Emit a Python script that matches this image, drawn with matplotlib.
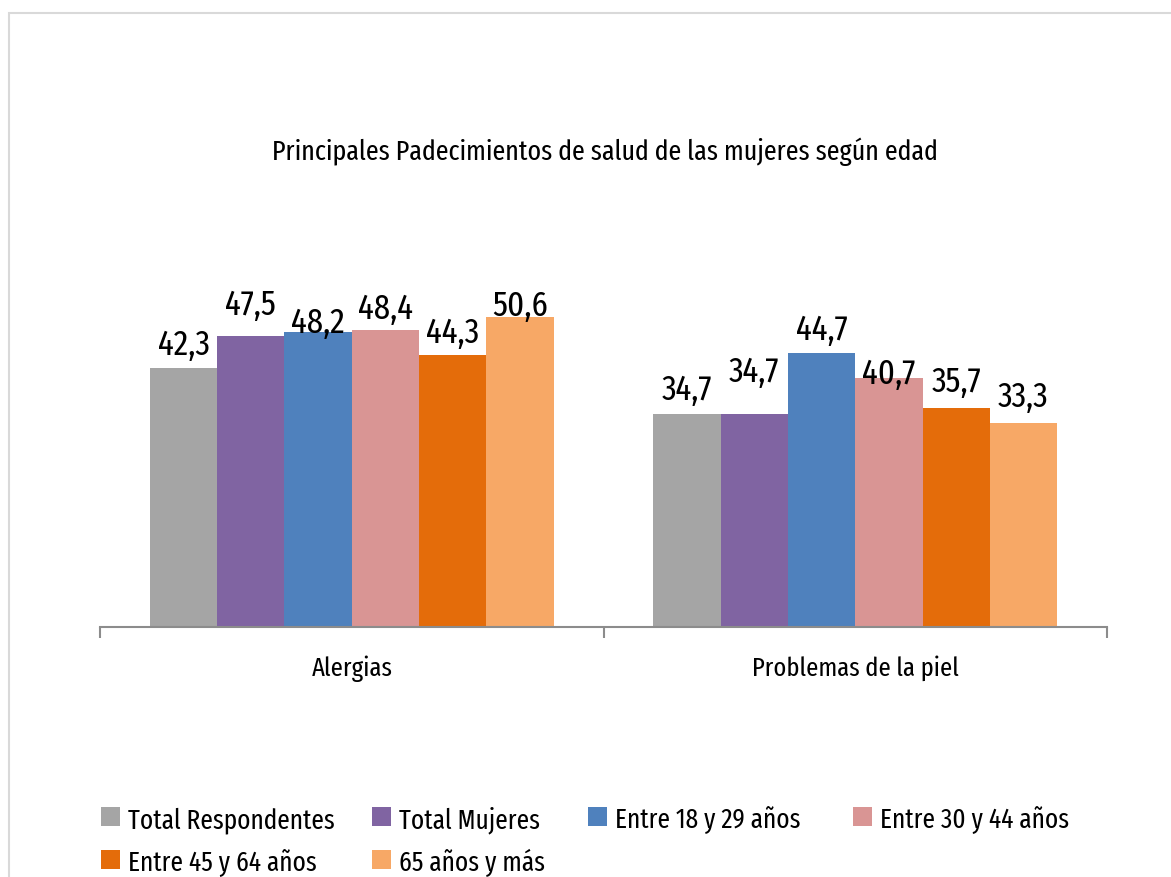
import matplotlib
matplotlib.use("Agg")
import matplotlib.pyplot as plt
import numpy as np
from matplotlib import font_manager
from matplotlib.font_manager import FontProperties
from matplotlib.patches import Rectangle

# Data
categories = ["Alergias", "Problemas de la piel"]
series_names = [
    "Total Respondentes",
    "Total Mujeres",
    "Entre 18 y 29 años",
    "Entre 30 y 44 años",
    "Entre 45 y 64 años",
    "65 años y más",
]
total_respondentes = [42.3, 34.7]
total_mujeres = [47.5, 34.7]
entre_18_29 = [48.2, 44.7]
entre_30_44 = [48.4, 40.7]
entre_45_64 = [44.3, 35.7]
mas_65 = [50.6, 33.3]

series_values = [total_respondentes, total_mujeres, entre_18_29,
                 entre_30_44, entre_45_64, mas_65]

# Style
COLORS = ["#A5A5A5", "#8064A2", "#4F81BD", "#D99594", "#E46C0A", "#F7A866"]
# Excel-like label gap above each bar (points), per series per category
LABEL_GAP = [[10, 11], [16, 24], [0, 10], [9, -4], [10, 12], [1, 12]]
# legend item slots (left px of the swatch, row) like the Excel layout
LEGEND_SLOTS = [(101, 0), (372, 0), (588, 0), (853, 0), (101, 1), (372, 1)]
LEGEND_ROWS_Y = [817.5, 860.5]

fig = plt.figure(figsize=(11.71, 8.78), dpi=100)
fig.patch.set_facecolor("white")
renderer = fig.canvas.get_renderer()


def text_width(s, prop):
    w, h, d = renderer.get_text_width_height_descent(s, prop, ismath=False)
    return w


def pick_narrow_font():
    """Narrow sans face closest to the reference (Arial Narrow-like, tall)."""
    cands = []
    for f in font_manager.fontManager.ttflist:
        base = f.fname.split("/")[-1]
        if not any(k in base for k in ("Narrow", "Condensed")):
            continue
        if f.style != "normal" or f.weight not in (400, "normal", "regular"):
            continue
        if any(k in base for k in ("Bold", "Italic", "Oblique", "Light",
                                   "Medium", "Thin", "Black", "Semi")):
            continue
        cands.append(f.fname)
    best, best_err = None, None
    for fn in cands:
        try:
            w = text_width("Total Respondentes", FontProperties(fname=fn, size=20))
        except Exception:
            continue
        err = abs(w - 207)
        if best is None or err < best_err:
            best, best_err = fn, err
    return best


narrow = pick_narrow_font()


def fprop(size):
    if narrow:
        return FontProperties(fname=narrow, size=size)
    return FontProperties(family="DejaVu Sans", stretch="condensed", size=size)


def fit(s, target_px, base=20.0):
    return base * target_px / text_width(s, fprop(base))


label_size = fit("42,3", 52)
title_size = fit("Principales Padecimientos de salud de las mujeres según edad", 667)
cat_size = fit("Problemas de la piel", 206)
legend_size = fit("Total Respondentes", 207)

# light frame around the chart area
fig.patches.append(Rectangle((9 / 1171, -0.2), 1.5, 1.2 - 14 / 878,
                             transform=fig.transFigure, fill=False,
                             edgecolor="#D9D9D9", linewidth=1.5))

ax = fig.add_axes([100 / 1171, 250 / 878, 1007 / 1171, 367.8 / 878])
x = np.arange(len(categories))
bar_w = 0.1337
n = len(series_values)
for i, (name, vals) in enumerate(zip(series_names, series_values)):
    pos = x + (i - (n - 1) / 2) * bar_w
    ax.bar(pos, vals, width=bar_w, color=COLORS[i], label=name, zorder=2)
    for j, v in enumerate(vals):
        ax.annotate(f"{v:.1f}".replace(".", ","), (pos[j], v),
                    xytext=(0, LABEL_GAP[i][j]), textcoords="offset points",
                    ha="center", va="baseline", color="black",
                    fontproperties=fprop(label_size))

ax.set_xlim(-0.5, len(categories) - 0.5)
ax.set_ylim(0, 60)
ax.set_yticks([])
for s in ["top", "right", "left"]:
    ax.spines[s].set_visible(False)
ax.spines["bottom"].set_color("#8C8C8C")
ax.spines["bottom"].set_linewidth(1.5)
ax.set_xticks(np.arange(-0.5, len(categories)), minor=False)
ax.set_xticklabels([])
ax.tick_params(axis="x", which="major", direction="out", length=8,
               width=1.5, color="#8C8C8C")
ax.set_xticks(x, minor=True)
ax.set_xticklabels(categories, minor=True, fontproperties=fprop(cat_size))
ax.tick_params(axis="x", which="minor", length=0, pad=20)

fig.text(605 / 1171, 1 - 152 / 878,
         "Principales Padecimientos de salud de las mujeres según edad",
         ha="center", va="center", fontproperties=fprop(title_size))

# legend, laid out by hand in rows like Excel does
sw = 19
for k, name in enumerate(series_names):
    left, row = LEGEND_SLOTS[k]
    yc = LEGEND_ROWS_Y[row]
    fig.patches.append(Rectangle((left / 1171, 1 - (yc + sw / 2) / 878),
                                 sw / 1171, sw / 878, transform=fig.transFigure,
                                 facecolor=COLORS[k], edgecolor="none"))
    fig.text((left + 27) / 1171, 1 - yc / 878, name, ha="left",
             va="center_baseline", fontproperties=fprop(legend_size))

fig.savefig("out.png", dpi=100, facecolor="white")
